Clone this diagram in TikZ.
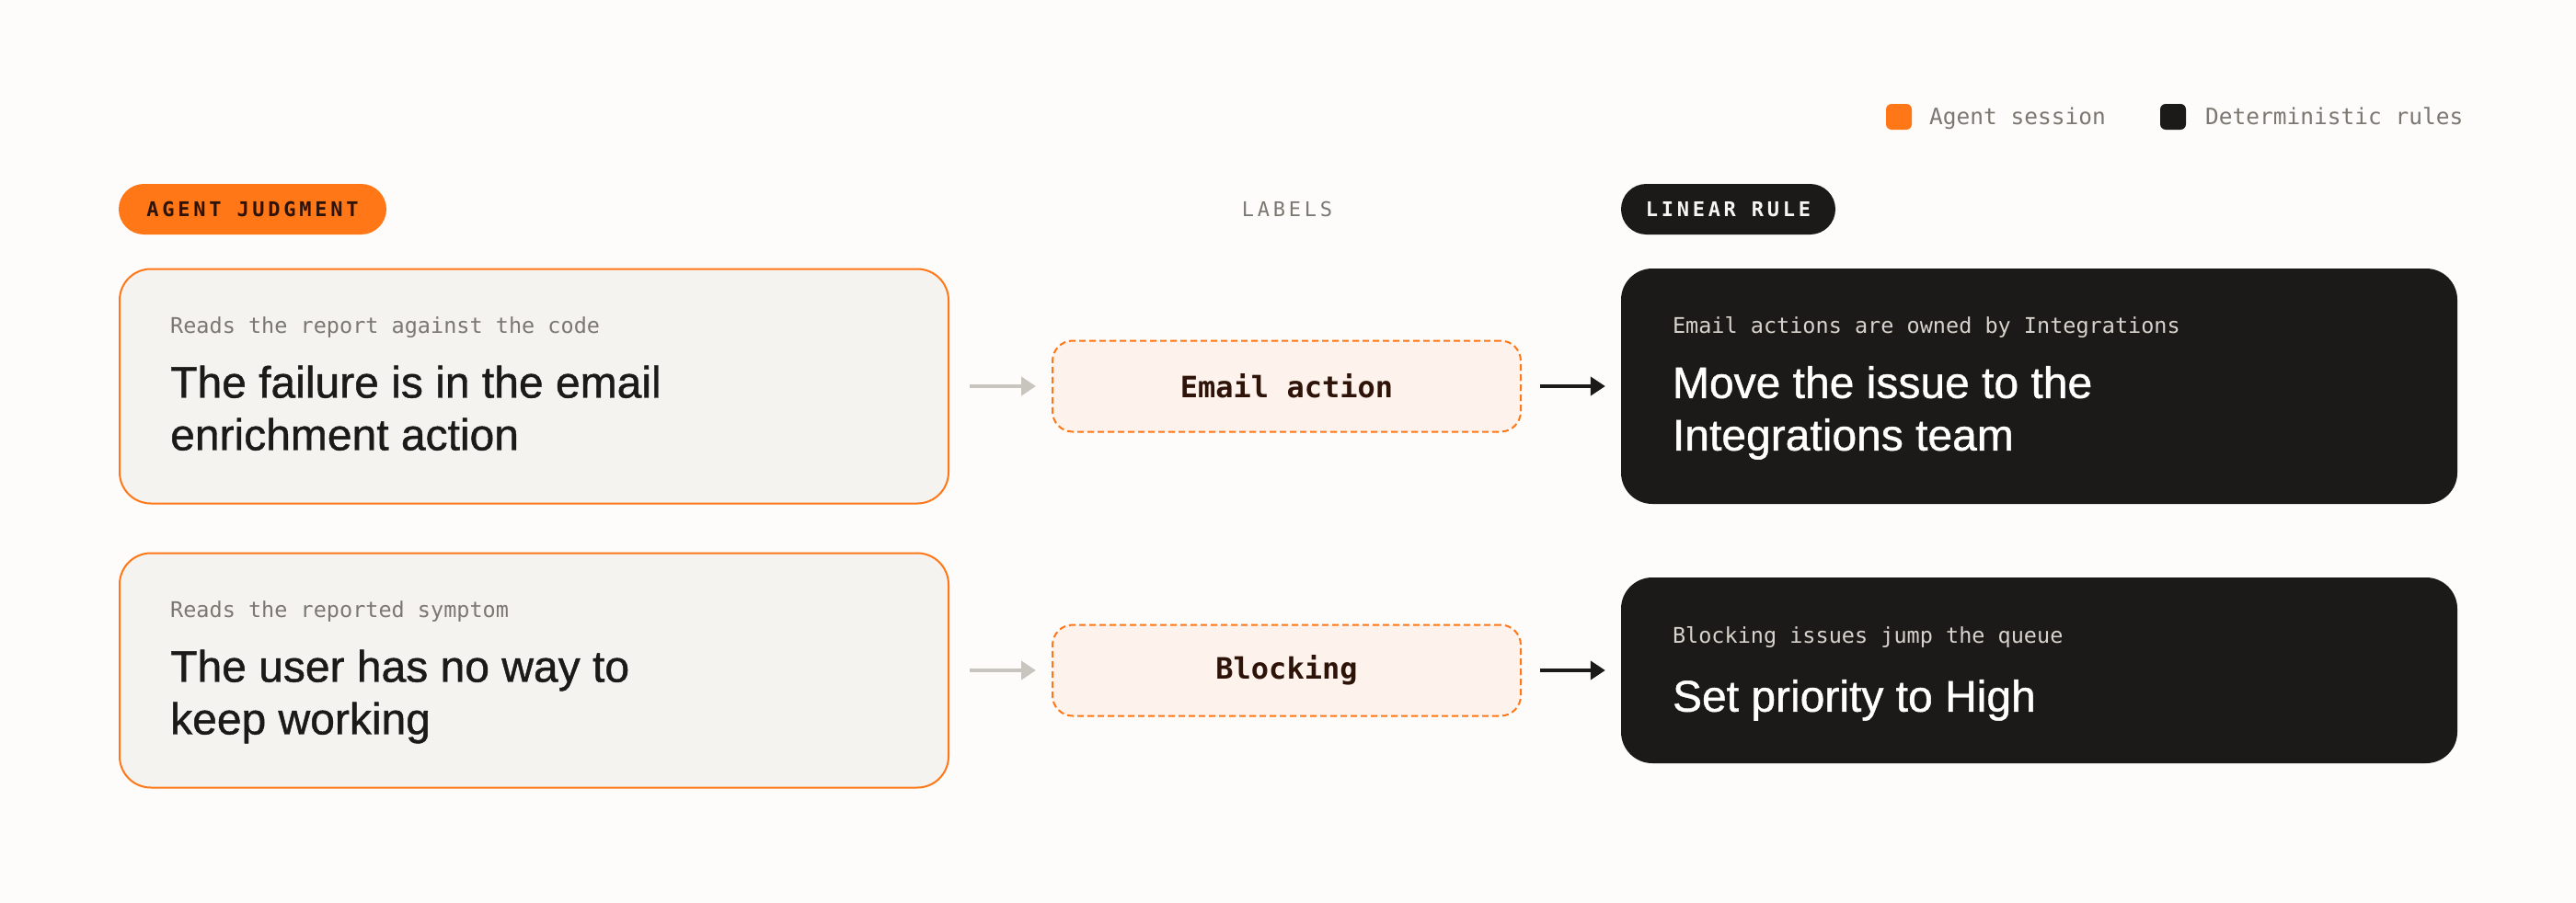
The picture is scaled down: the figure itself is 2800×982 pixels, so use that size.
\documentclass[tikz,border=0pt]{standalone}
\usepackage{fontspec}
\setmainfont{Liberation Sans}
\newfontfamily\claimfont{Liberation Sans}[FakeBold=0.9]
\newfontfamily\monofont{DejaVu Sans Mono}
\newfontfamily\capsfont[LetterSpace=17]{DejaVu Sans Mono}
\usetikzlibrary{arrows.meta}

\definecolor{bgpaper}{HTML}{FDFCFA}
\definecolor{agentorange}{HTML}{FF7716}
\definecolor{ruleblack}{HTML}{1C1A18}
\definecolor{judgefill}{HTML}{F4F3F0}
\definecolor{labelfill}{HTML}{FEF2EC}
\definecolor{softgray}{HTML}{7B7872}
\definecolor{arrowgray}{HTML}{C8C5BF}
\definecolor{palegray}{HTML}{D6D3CD}
\definecolor{darkbrown}{HTML}{2E1308}
\definecolor{chalk}{HTML}{F7F5F1}

\tikzset{
  judgebox/.style={draw=agentorange, line width=2pt, fill=judgefill, rounded corners=34pt,
    minimum width=901pt, minimum height=255pt, inner sep=0pt},
  rulebox/.style={fill=ruleblack, rounded corners=34pt, minimum width=909pt, inner sep=0pt},
  tagbox/.style={draw=agentorange, line width=2pt, dash pattern=on 7pt off 4pt, fill=labelfill,
    rounded corners=22pt, minimum width=509pt, minimum height=99pt, inner sep=0pt,
    text=darkbrown, font=\monofont\bfseries\fontsize{32}{38}\selectfont},
  pill/.style={rounded corners=27.5pt, minimum height=55pt, inner sep=0pt,
    font=\capsfont\bfseries\fontsize{22}{26}\selectfont},
  note/.style={anchor=base west, inner sep=0pt, font=\monofont\fontsize{23.5}{28}\selectfont},
  claim/.style={anchor=north west, inner sep=0pt, align=left, font=\claimfont\fontsize{48}{57}\selectfont},
  swatch/.style={minimum size=28pt, inner sep=0pt, rounded corners=6pt},
  key/.style={anchor=base west, inner sep=0pt, text=softgray, font=\monofont\fontsize{24.5}{29}\selectfont},
  feed/.style={line width=4pt, draw=arrowgray, -{Triangle[length=16pt,width=20pt]},
    shorten <=22pt, shorten >=17pt},
  fire/.style={line width=4pt, draw=ruleblack, -{Triangle[length=16pt,width=20pt]},
    shorten <=20pt, shorten >=17pt}
}

\begin{document}
\begin{tikzpicture}[x=1pt,y=-1pt]
\fill[bgpaper] (0,0) rectangle (2800,982);
\useasboundingbox (0,0) rectangle (2800,982);

% legend
\node[swatch, fill=agentorange] (swa) at (2064,127) {};
\node[key] (keya) at (2097,135) {Agent session};
\node[swatch, fill=ruleblack] (swb) at (2362,127) {};
\node[key] (keyb) at (2397,135) {Deterministic rules};

% column heads
\node[pill, fill=agentorange, text=darkbrown, minimum width=291pt] (headj) at (274.5,227.5) {AGENT JUDGMENT};
\node[inner sep=0pt, text=softgray, font=\capsfont\fontsize{22}{26}\selectfont] (headl) at (1399,227.5) {LABELS};
\node[pill, fill=ruleblack, text=chalk, minimum width=233pt] (headr) at (1878.5,227.5) {LINEAR RULE};

% first row
\node[judgebox] (j1) at (580.5,420) {};
\node[note, text=softgray] (j1note) at ([shift={(56,71)}]j1.north west) {Reads the report against the code};
\node[claim, text=ruleblack] (j1claim) at ([shift={(56,106)}]j1.north west) {The failure is in the email\\enrichment action};
\node[tagbox] (l1) at (1398.5,420) {Email action};
\node[rulebox, minimum height=256pt] (r1) at (2216.5,420) {};
\node[note, text=palegray] (r1note) at ([shift={(56,71)}]r1.north west) {Email actions are owned by Integrations};
\node[claim, text=white] (r1claim) at ([shift={(56,106)}]r1.north west) {Move the issue to the\\Integrations team};
\draw[feed] (j1.east) -- (l1.west);
\draw[fire] (l1.east) -- (r1.west);

% second row
\node[judgebox] (j2) at (580.5,729) {};
\node[note, text=softgray] (j2note) at ([shift={(56,71)}]j2.north west) {Reads the reported symptom};
\node[claim, text=ruleblack] (j2claim) at ([shift={(56,106)}]j2.north west) {The user has no way to\\keep working};
\node[tagbox] (l2) at (1398.5,729) {Blocking};
\node[rulebox, minimum height=202pt] (r2) at (2216.5,729) {};
\node[note, text=palegray] (r2note) at ([shift={(56,72)}]r2.north west) {Blocking issues jump the queue};
\node[claim, text=white] (r2claim) at ([shift={(56,111)}]r2.north west) {Set priority to High};
\draw[feed] (j2.east) -- (l2.west);
\draw[fire] (l2.east) -- (r2.west);
\end{tikzpicture}
\end{document}
